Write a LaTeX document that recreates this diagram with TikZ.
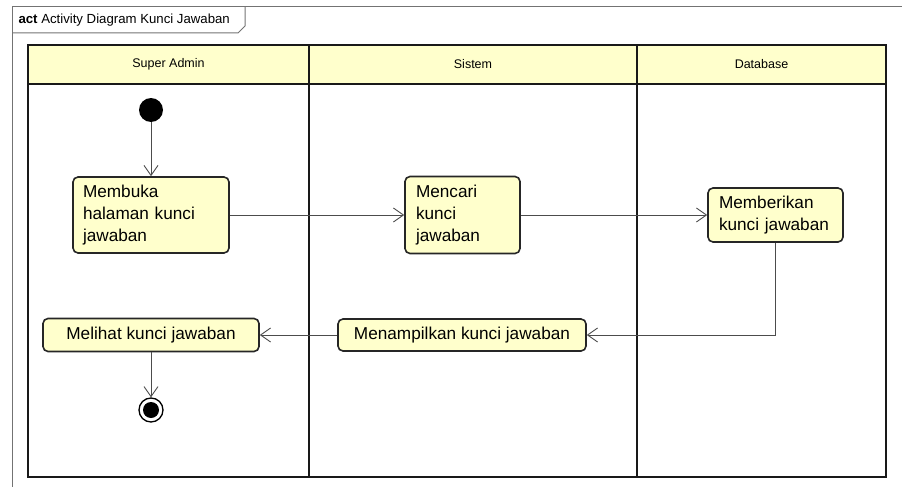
\documentclass[tikz,border=0pt]{standalone}
\usepackage{fontspec}
\setmainfont{Liberation Sans}
\usetikzlibrary{arrows.meta}

\definecolor{laneyellow}{RGB}{255,255,204}

\begin{document}
\begin{tikzpicture}[x=1pt, y=-1pt,
        action/.style={draw=black!85, line width=1.6pt, fill=laneyellow,
            rounded corners=5pt, inner sep=0pt, align=left,
            font=\fontsize{17.2}{22}\selectfont},
        lanelabel/.style={font=\fontsize{12.5}{14}\selectfont},
        flow/.style={draw=black!70, line width=0.9pt,
            -{Straight Barb[length=10pt, width=14pt]}}
    ]
    \useasboundingbox (0,0) rectangle (902,487);

    % frame
    \draw[black!55, line width=1pt] (12,487) -- (12,7) -- (902,7);
    \draw[black!55, line width=1pt] (12,33) -- (238,33) -- (245,26) -- (245,7);
    \node[anchor=west, font=\fontsize{13.2}{15}\selectfont] (title) at (15,20)
        {\textbf{act} Activity Diagram Kunci Jawaban};

    % swimlanes
    \begin{scope}[draw=black!90, line width=1.8pt]
        \draw[fill=laneyellow] (28,45) rectangle (886,84);
        \draw (28,45) rectangle (886,477);
        \draw (309,45) -- (309,477);
        \draw (637,45) -- (637,477);
    \end{scope}
    \node[lanelabel] (admin) at (168.5,64.5) {Super Admin};
    \node[lanelabel] (sistem) at (473,64.5) {Sistem};
    \node[lanelabel] (db) at (761.5,64.5) {Database};

    % actions
    \node[circle, fill=black, minimum size=24pt, inner sep=0pt] (start) at (151,110) {};
    \node[action, minimum width=156pt, minimum height=76pt, text width=136pt] (buka) at (151,215)
        {Membuka\\halaman kunci\\jawaban};
    \node[action, minimum width=115pt, minimum height=77pt, text width=93pt] (cari) at (462.5,215)
        {Mencari\\kunci\\jawaban};
    \node[action, minimum width=135pt, minimum height=54pt, text width=113pt] (beri) at (775.5,215)
        {Memberikan\\kunci jawaban};
    \node[action, minimum width=248pt, minimum height=32pt, align=center] (tampil) at (462,335)
        {Menampilkan kunci jawaban};
    \node[action, minimum width=216pt, minimum height=33pt, align=center] (lihat) at (151,335)
        {Melihat kunci jawaban};
    \node[circle, draw=black, line width=1.3pt, minimum size=24pt, inner sep=0pt] (end) at (151,410) {};
    \fill (end) circle (8pt);

    % flows
    \draw[flow] (start) -- (buka);
    \draw[flow] (buka) -- (cari);
    \draw[flow] (cari) -- (beri);
    \draw[flow] (beri) |- (tampil);
    \draw[flow] (tampil) -- (lihat);
    \draw[flow] (lihat) -- (end);
\end{tikzpicture}
\end{document}
